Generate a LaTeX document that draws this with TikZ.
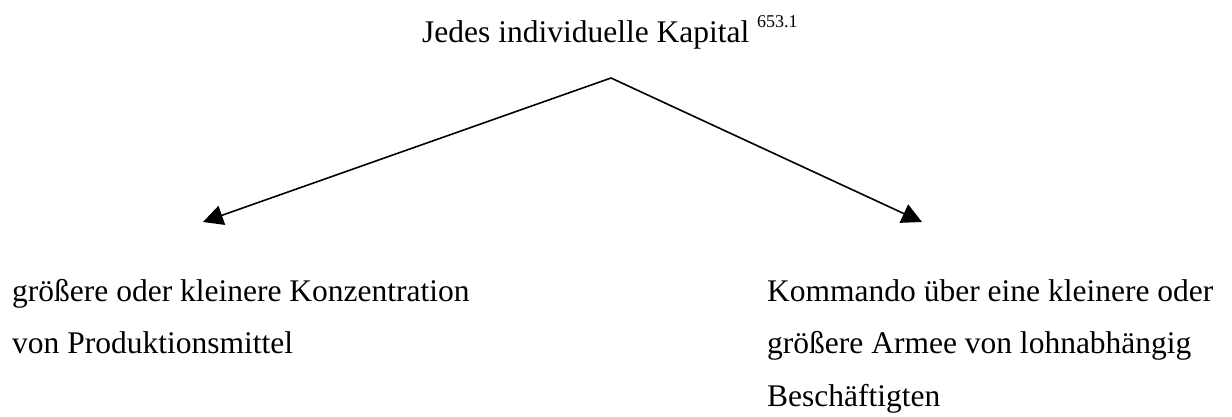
\documentclass[tikz,border=0pt]{standalone}
\usepackage{fontspec}
\setmainfont{Liberation Serif}
\usetikzlibrary{arrows.meta}
\begin{document}
\begin{tikzpicture}[x=1pt,y=-1pt,
  txt/.style={inner sep=0pt,anchor=base west,font=\fontsize{31.5}{53}\selectfont},
  conn/.style={line width=1.6pt,-{Triangle[length=20pt,width=20pt]}}]
\useasboundingbox (0,0) rectangle (1232,417);
\node[txt] (top) at (422,43) {Jedes individuelle Kapital \raisebox{15pt}{\fontsize{18}{20}\selectfont 653.1}};
\coordinate (apex) at (611,78);
\coordinate (ltip) at (203,222);
\coordinate (rtip) at (922,222);
\draw[conn] (apex) -- (ltip);
\draw[conn] (apex) -- (rtip);
\node[txt] (l1) at (12,301) {größere oder kleinere Konzentration};
\node[txt] (l2) at (12,353) {von Produktionsmittel};
\node[txt] (r1) at (767,301) {Kommando über eine kleinere oder};
\node[txt] (r2) at (767,353) {größere Armee von lohnabhängig};
\node[txt] (r3) at (767,406) {Beschäftigten};
\end{tikzpicture}
\end{document}
